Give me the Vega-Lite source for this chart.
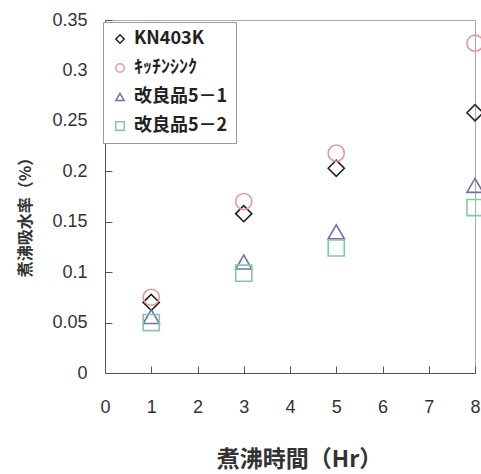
{
  "$schema": "https://vega.github.io/schema/vega-lite/v6.json",
  "width": 370,
  "height": 353,
  "autosize": "none",
  "padding": {"left": 105, "top": 20, "right": 6, "bottom": 101},
  "background": "white",
  "config": {
    "view": {"stroke": "#aaaaaa", "strokeWidth": 1},
    "font": "Liberation Sans"
  },
  "data": {
    "values": [
      {"series": "KN403K", "hr": 1, "rate": 0.070},
      {"series": "KN403K", "hr": 3, "rate": 0.158},
      {"series": "KN403K", "hr": 5, "rate": 0.203},
      {"series": "KN403K", "hr": 8, "rate": 0.258},
      {"series": "ｷｯﾁﾝｼﾝｸ", "hr": 1, "rate": 0.075},
      {"series": "ｷｯﾁﾝｼﾝｸ", "hr": 3, "rate": 0.170},
      {"series": "ｷｯﾁﾝｼﾝｸ", "hr": 5, "rate": 0.218},
      {"series": "ｷｯﾁﾝｼﾝｸ", "hr": 8, "rate": 0.327},
      {"series": "改良品5－1", "hr": 1, "rate": 0.056},
      {"series": "改良品5－1", "hr": 3, "rate": 0.110},
      {"series": "改良品5－1", "hr": 5, "rate": 0.140},
      {"series": "改良品5－1", "hr": 8, "rate": 0.186},
      {"series": "改良品5－2", "hr": 1, "rate": 0.050},
      {"series": "改良品5－2", "hr": 3, "rate": 0.099},
      {"series": "改良品5－2", "hr": 5, "rate": 0.124},
      {"series": "改良品5－2", "hr": 8, "rate": 0.164}
    ]
  },
  "mark": {"type": "point", "filled": false, "size": 260, "strokeWidth": 1.6, "opacity": 1, "clip": false},
  "encoding": {
    "x": {
      "field": "hr", "type": "quantitative",
      "scale": {"domain": [0, 8], "nice": false, "zero": true},
      "axis": {
        "title": "煮沸時間（Hr）",
        "values": [0, 1, 2, 3, 4, 5, 6, 7, 8],
        "grid": false,
        "tickSize": -7,
        "tickColor": "#555555",
        "tickWidth": 1,
        "domainColor": "#555555",
        "labelFont": "Liberation Sans",
        "labelFontSize": 18,
        "labelColor": "#333333",
        "labelPadding": 32,
        "labelFlush": false,
        "titleFont": "Noto Sans CJK JP",
        "titleFontSize": 23,
        "titleFontWeight": "bold",
        "titleColor": "#333333",
        "titleX": 194,
        "titleY": 86,
        "titleBaseline": "middle"
      }
    },
    "y": {
      "field": "rate", "type": "quantitative",
      "scale": {"domain": [0, 0.35], "nice": false},
      "axis": {
        "title": "煮沸吸水率（%）",
        "values": [0, 0.05, 0.1, 0.15, 0.2, 0.25, 0.3, 0.35],
        "labelExpr": "datum.value == 0 ? '0' : format(datum.value, '.2~f')",
        "grid": false,
        "tickSize": -7,
        "tickColor": "#555555",
        "tickWidth": 1,
        "domainColor": "#555555",
        "labelFont": "Liberation Sans",
        "labelFontSize": 18,
        "labelColor": "#333333",
        "labelPadding": 25,
        "labelFlush": false,
        "titleFont": "Noto Sans CJK JP",
        "titleFontSize": 16,
        "titleFontWeight": "bold",
        "titleColor": "#333333",
        "titleAngle": -90,
        "titleX": -80,
        "titleY": 193,
        "titleBaseline": "middle"
      }
    },
    "color": {
      "field": "series", "type": "nominal",
      "scale": {
        "domain": ["KN403K", "ｷｯﾁﾝｼﾝｸ", "改良品5－1", "改良品5－2"],
        "range": ["#222222", "#e49a9a", "#7070aa", "#84c8a8"]
      },
      "legend": {
        "title": null,
        "orient": "none",
        "legendX": -2,
        "legendY": 2,
        "padding": 8,
        "strokeColor": "#999999",
        "fillColor": "white",
        "labelFont": "Noto Sans CJK JP",
        "labelFontSize": 18,
        "labelFontWeight": "bold",
        "labelColor": "#222222",
        "symbolSize": 70,
        "symbolStrokeWidth": 1.5,
        "rowPadding": 11,
        "labelOffset": 5
      }
    },
    "shape": {
      "field": "series", "type": "nominal",
      "scale": {
        "domain": ["KN403K", "ｷｯﾁﾝｼﾝｸ", "改良品5－1", "改良品5－2"],
        "range": ["diamond", "circle", "triangle-up", "square"]
      },
      "legend": null
    }
  }
}
